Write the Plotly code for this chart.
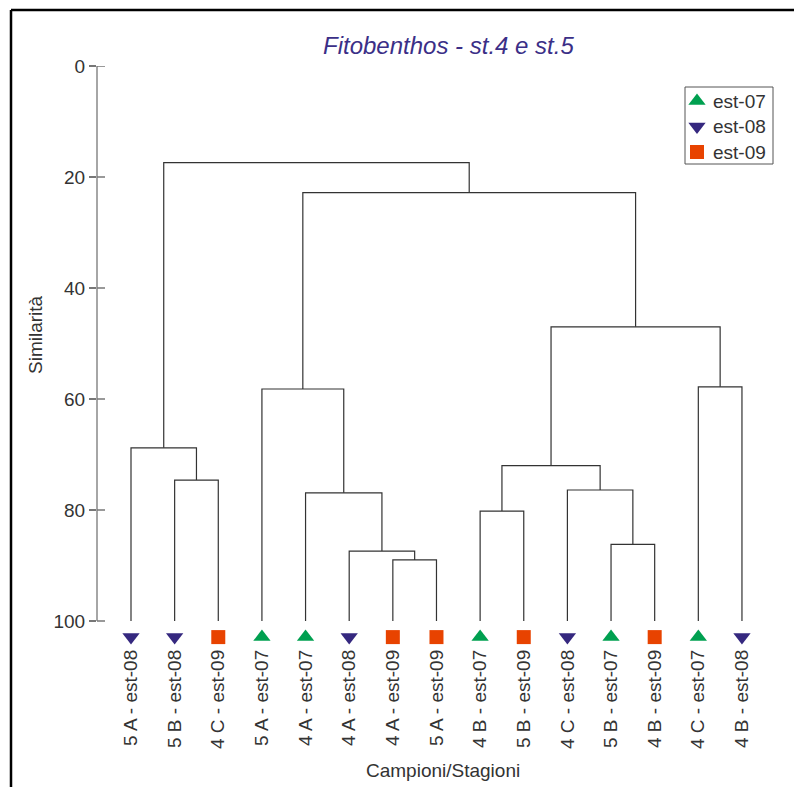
import plotly.graph_objects as go

# ---- data ----
leaf_labels = ["5 A - est-08", "5 B - est-08", "4 C - est-09", "5 A - est-07", "4 A - est-07",
               "4 A - est-08", "4 A - est-09", "5 A - est-09", "4 B - est-07", "5 B - est-09",
               "4 C - est-08", "5 B - est-07", "4 B - est-09", "4 C - est-07", "4 B - est-08"]
leaf_season = ["est-08", "est-08", "est-09", "est-07", "est-07",
               "est-08", "est-09", "est-09", "est-07", "est-09",
               "est-08", "est-07", "est-09", "est-07", "est-08"]
# merges: (child a, child b, similarity level); new cluster ids start at 15
merge_a = [1, 0, 6, 5, 4, 3, 8, 11, 10, 21, 13, 24, 20, 16]
merge_b = [2, 15, 7, 17, 18, 19, 9, 12, 22, 23, 14, 25, 26, 27]
merge_h = [74.6, 68.8, 89.0, 87.4, 76.9, 58.2, 80.2, 86.2, 76.4, 72.0, 57.8, 47.0, 22.8, 17.4]
seasons = ["est-07", "est-08", "est-09"]
y_ticks = [0, 20, 40, 60, 80, 100]

season_style = {
    "est-07": dict(symbol="triangle-up", color="#00a050", size=15),
    "est-08": dict(symbol="triangle-down", color="#35287f", size=15),
    "est-09": dict(symbol="square", color="#e84300", size=14),
}

FS = 19
TXT = "#333333"
n = len(leaf_labels)
pos = {i: (float(i), 100.0) for i in range(n)}
xs, ys = [], []
for k, (a, b, h) in enumerate(zip(merge_a, merge_b, merge_h)):
    xa, ya = pos[a]
    xb, yb = pos[b]
    xs += [xa, xa, xb, xb, None]
    ys += [ya, h, h, yb, None]
    pos[n + k] = ((xa + xb) / 2, h)

fig = go.Figure()
fig.add_trace(go.Scatter(x=xs, y=ys, mode="lines", line=dict(color="#333333", width=1.2),
                         showlegend=False, hoverinfo="skip"))

MARK_Y = 102.9
for s in seasons:
    idx = [i for i in range(n) if leaf_season[i] == s]
    st = season_style[s]
    fig.add_trace(go.Scatter(
        x=idx, y=[MARK_Y] * len(idx), mode="markers", name=s, showlegend=False,
        marker=dict(symbol=st["symbol"], color=st["color"], size=st["size"], line=dict(width=0)),
        cliponaxis=False, hoverinfo="skip"))

# ---- layout geometry (pixels) ----
W, H = 794, 787
L, R, T, B = 97, 30, 66, 142
pw = W - L - R
ph = H - T - B
unit_x = 43.64
x_left = -(131 - L) / unit_x
x_right = x_left + pw / unit_x
y_bottom = (H - B - T) / 5.55


def px2paper_x(px):
    return (px - L) / pw


def px2paper_y(py):
    return (H - B - py) / ph


# ---- legend (drawn on a pixel-unit overlay axis) ----
LG_X0, LG_X1, LG_Y0, LG_Y1 = 685, 773, 87, 164
LG_MX, LG_TX, LG_Y_FIRST, LG_STEP = 697, 711, 101, 25.5
annotations = []
shapes = []
for j, s in enumerate(seasons):
    st = season_style[s]
    yy = LG_Y_FIRST + j * LG_STEP
    fig.add_trace(go.Scatter(
        x=[LG_MX], y=[yy], xaxis="x2", yaxis="y2", mode="markers", showlegend=False,
        marker=dict(symbol=st["symbol"], color=st["color"], size=st["size"], line=dict(width=0)),
        cliponaxis=False, hoverinfo="skip"))
    annotations.append(dict(text=s, xref="x2", yref="y2", x=LG_TX, y=yy, xanchor="left",
                            yanchor="middle", showarrow=False, font=dict(size=FS, color=TXT)))
shapes.append(dict(type="rect", xref="paper", yref="paper",
                   x0=px2paper_x(LG_X0), x1=px2paper_x(LG_X1),
                   y0=px2paper_y(LG_Y0), y1=px2paper_y(LG_Y1),
                   line=dict(color="#555555", width=1), layer="below"))

shapes += [
    dict(type="line", xref="paper", yref="y", x0=0, x1=0, y0=0, y1=100,
         line=dict(color="#888888", width=1.5)),
    # frame (top and left)
    dict(type="line", xref="paper", yref="paper", x0=px2paper_x(11), x1=px2paper_x(800),
         y0=px2paper_y(10), y1=px2paper_y(10), line=dict(color="black", width=2.5)),
    dict(type="line", xref="paper", yref="paper", x0=px2paper_x(11), x1=px2paper_x(11),
         y0=px2paper_y(10), y1=px2paper_y(800), line=dict(color="black", width=2.5)),
]
for t in y_ticks:
    shapes.append(dict(type="line", xref="paper", yref="y", x0=0, x1=8 / pw, y0=t, y1=t,
                       line=dict(color="#777777", width=1.5)))

annotations += [
    dict(text="Similarità", xref="paper", yref="paper", x=px2paper_x(35), y=px2paper_y(335),
         textangle=-90, showarrow=False, font=dict(size=FS, color=TXT),
         xanchor="center", yanchor="middle"),
    dict(text="Campioni/Stagioni", xref="paper", yref="paper", x=px2paper_x(443), y=px2paper_y(770),
         showarrow=False, font=dict(size=FS, color=TXT), xanchor="center", yanchor="middle"),
    dict(text="<i>Fitobenthos - st.4 e st.5</i>", xref="paper", yref="paper",
         x=px2paper_x(448), y=px2paper_y(45), showarrow=False,
         font=dict(size=24, color="#3b2f87"), xanchor="center", yanchor="middle"),
]

fig.update_layout(
    width=W, height=H,
    margin=dict(l=L, r=R, t=T, b=B, pad=0),
    paper_bgcolor="white", plot_bgcolor="white",
    font=dict(family="Liberation Sans, Arial, sans-serif", size=FS, color=TXT),
    showlegend=False,
    xaxis=dict(range=[x_left, x_right], tickvals=list(range(n)), ticktext=leaf_labels,
               tickangle=-90, showgrid=False, zeroline=False, showline=False, ticks="",
               tickfont=dict(size=FS, color=TXT)),
    yaxis=dict(range=[y_bottom, 0], tickvals=y_ticks, showgrid=False, zeroline=False,
               showline=False, ticks="outside", ticklen=7, tickwidth=1.5, tickcolor="#777777",
               tickfont=dict(size=FS, color=TXT)),
    xaxis2=dict(overlaying="x", range=[L, W - R], visible=False),
    yaxis2=dict(overlaying="y", range=[H - B, T], visible=False),
    shapes=shapes, annotations=annotations,
)

fig.write_html("out.html")
